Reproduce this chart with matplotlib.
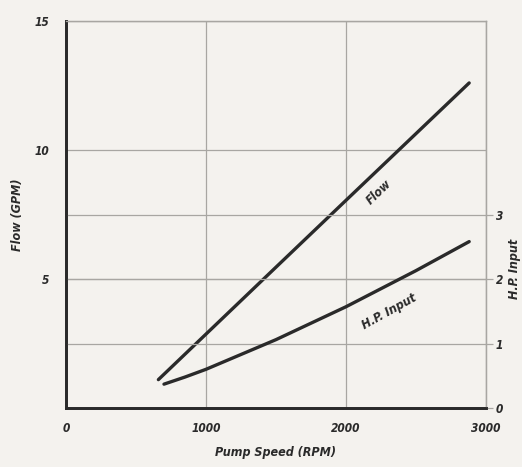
import matplotlib.pyplot as plt

# values
flow_rpm = [660, 1450, 2000, 2880]
flow_gpm = [1.1, 5.2, 8.05, 12.6]

hp_rpm = [700, 850, 1000, 1500, 2000, 2500, 2880]
hp_input = [0.37, 0.48, 0.60, 1.06, 1.57, 2.13, 2.58]

x_ticks = [0, 1000, 2000, 3000]
flow_ticks = [5, 10, 15]
hp_ticks = [0, 1, 2, 3]

bg = '#f4f2ee'
ink = '#2a2a2a'
gridc = '#a8a6a2'
font = dict(family=['DejaVu Sans'], stretch='condensed', weight='bold', style='italic', color=ink)

fig = plt.figure(figsize=(5.22, 4.67), dpi=100, facecolor=bg)
ax = fig.add_axes([0.1264, 0.1263, 0.8046, 0.8287], facecolor=bg)
ax2 = ax.twinx()

ax.plot(flow_rpm, flow_gpm, color=ink, lw=2.4, solid_capstyle='round', zorder=5)
ax2.plot(hp_rpm, hp_input, color=ink, lw=2.4, solid_capstyle='round', zorder=5)

ax.set_xlim(0, 3000)
ax.set_ylim(0, 15)
ax2.set_ylim(0, 6)

ax.set_xticks(x_ticks)
ax.set_xticklabels([str(v) for v in x_ticks], **font, fontsize=8.5)
ax.set_yticks(flow_ticks)
ax.set_yticklabels([str(v) for v in flow_ticks], **font, fontsize=8.5)
ax2.set_yticks(hp_ticks)
ax2.set_yticklabels([str(v) for v in hp_ticks], **font, fontsize=8.5)

ax.grid(True, color=gridc, lw=0.9)
ax2.grid(True, axis='y', color=gridc, lw=0.9)
ax.set_axisbelow(True)

ax.tick_params(axis='both', length=0, pad=12)
ax.tick_params(axis='x', pad=10)
ax2.tick_params(axis='y', length=5, width=0.9, color=gridc, pad=2)

for a in (ax, ax2):
    a.spines['top'].set_color(gridc)
    a.spines['top'].set_linewidth(0.9)
    a.spines['right'].set_color(gridc)
    a.spines['right'].set_linewidth(0.9)
    a.spines['left'].set_color(ink)
    a.spines['left'].set_linewidth(2)
    a.spines['bottom'].set_color(ink)
    a.spines['bottom'].set_linewidth(2)

ax.set_xlabel('Pump Speed (RPM)', fontsize=9, labelpad=8, **font)
ax.set_ylabel('Flow (GPM)', fontsize=9, **font)
ax2.set_ylabel('H.P. Input', fontsize=9, rotation=90, **font)
ax.yaxis.set_label_coords(-0.1, 0.5)
ax2.yaxis.set_label_coords(1.052, 0.36)

ax.text(2233, 8.37, 'Flow', fontsize=9, rotation=44, ha='center', va='center', **font)
ax.text(2312, 3.72, 'H.P. Input', fontsize=9, rotation=29, ha='center', va='center', **font)

fig.savefig('out.png', dpi=100, facecolor=bg)
